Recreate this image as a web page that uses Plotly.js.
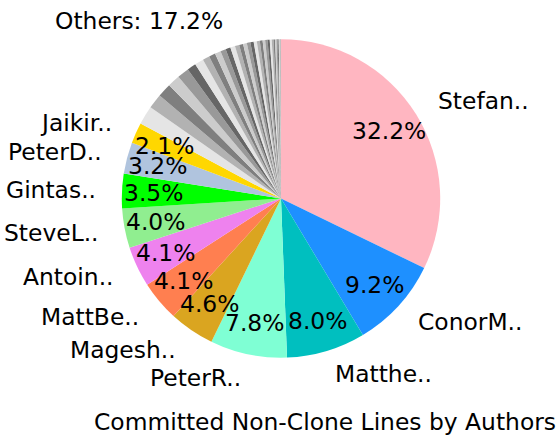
<!DOCTYPE html>
<html>
<head>
<meta charset="utf-8">
<script src="https://cdn.plot.ly/plotly-3.0.1.min.js"></script>
<style>html,body{margin:0;padding:0;background:#fff;}#chart{width:557px;height:439px;}</style>
</head>
<body>
<div id="chart"></div>
<script>
// ---- data ----
const authorLabels = ["Stefan..", "ConorM..", "Matthe..", "PeterR..", "Magesh..", "MattBe..", "Antoin..", "SteveL..", "Gintas..", "PeterD..", "Jaikir.."];
const authorValues = [32.2, 9.2, 8.0, 7.8, 4.6, 4.1, 4.1, 4.0, 3.5, 3.2, 2.1];
const authorColors = ["#FFB6C1", "#1E90FF", "#00BFBF", "#7FFFD4", "#DAA520", "#FF7F50", "#EE82EE", "#90EE90", "#00FF00", "#B0C4DE", "#FFD700"];
const otherValues = [1.9, 1.5, 1.4, 1.25, 1.2, 0.9, 0.9, 0.7, 0.65, 0.6, 0.55, 0.5, 0.48, 0.44, 0.4, 0.38,
                     0.36, 0.34, 0.32, 0.3, 0.28, 0.26, 0.24, 0.22, 0.2, 0.18, 0.16, 0.14, 0.12, 0.1, 0.08, 0.06, 0.04, 0.03, 0.02];
const greyCycle = ["#e5e5e5", "#b2b2b2", "#7f7f7f", "#cccccc", "#999999", "#666666"];
const othersLabel = "Others";
const chartTitle = "Committed Non-Clone Lines by Authors";

// ---- build ----
const W = 557, H = 439;
const cxPx = 281, cyPx = 198.5, rPx = 159.2;
const values = authorValues.concat(otherValues);
const labels = authorLabels.concat(otherValues.map((v, i) => "other" + i));
const colors = authorColors.concat(otherValues.map((v, i) => greyCycle[i % greyCycle.length]));
const total = values.reduce((a, b) => a + b, 0);
const otherSum = otherValues.reduce((a, b) => a + b, 0);

const font = {family: "DejaVu Sans", size: 23.4, color: "#000"};
const annotations = [];
let cum = 0;
authorValues.forEach((v, i) => {
  const mid = (cum + v / 2) / total * 2 * Math.PI;
  cum += v;
  const s = Math.sin(mid), c = Math.cos(mid);
  // percentage inside (0.8 r)
  annotations.push({
    xref: "paper", yref: "paper",
    x: (cxPx + 0.8 * rPx * s) / W, y: (H - cyPx + 0.8 * rPx * c) / H,
    text: (v / total * 100).toFixed(1) + "%", showarrow: false,
    xanchor: "center", yanchor: "middle", font: font
  });
  // label outside (1.15 r)
  annotations.push({
    xref: "paper", yref: "paper",
    x: (cxPx + 1.15 * rPx * s) / W, y: (H - cyPx + 1.15 * rPx * c) / H,
    text: authorLabels[i], showarrow: false,
    xanchor: s > 0 ? "left" : "right", yanchor: "middle", font: font
  });
});
annotations.push({
  xref: "paper", yref: "paper", x: 225 / W, y: (H - 21) / H,
  text: othersLabel + ": " + (otherSum / total * 100).toFixed(1) + "%",
  showarrow: false, xanchor: "right", yanchor: "middle", font: font
});
annotations.push({
  xref: "paper", yref: "paper", x: 325 / W, y: (H - 422) / H,
  text: chartTitle, showarrow: false, xanchor: "center", yanchor: "middle", font: font
});

const trace = {
  type: "pie",
  values: values,
  labels: labels,
  sort: false,
  direction: "clockwise",
  rotation: 0,
  marker: {colors: colors, line: {width: 0}},
  textinfo: "none",
  hoverinfo: "none",
  showlegend: false,
  domain: {x: [(cxPx - rPx) / W, (cxPx + rPx) / W], y: [(H - cyPx - rPx) / H, (H - cyPx + rPx) / H]}
};

Plotly.newPlot("chart", [trace], {
  width: W, height: H,
  margin: {l: 0, r: 0, t: 0, b: 0},
  paper_bgcolor: "#fff",
  showlegend: false,
  annotations: annotations
}, {staticPlot: true});
</script>
</body>
</html>
